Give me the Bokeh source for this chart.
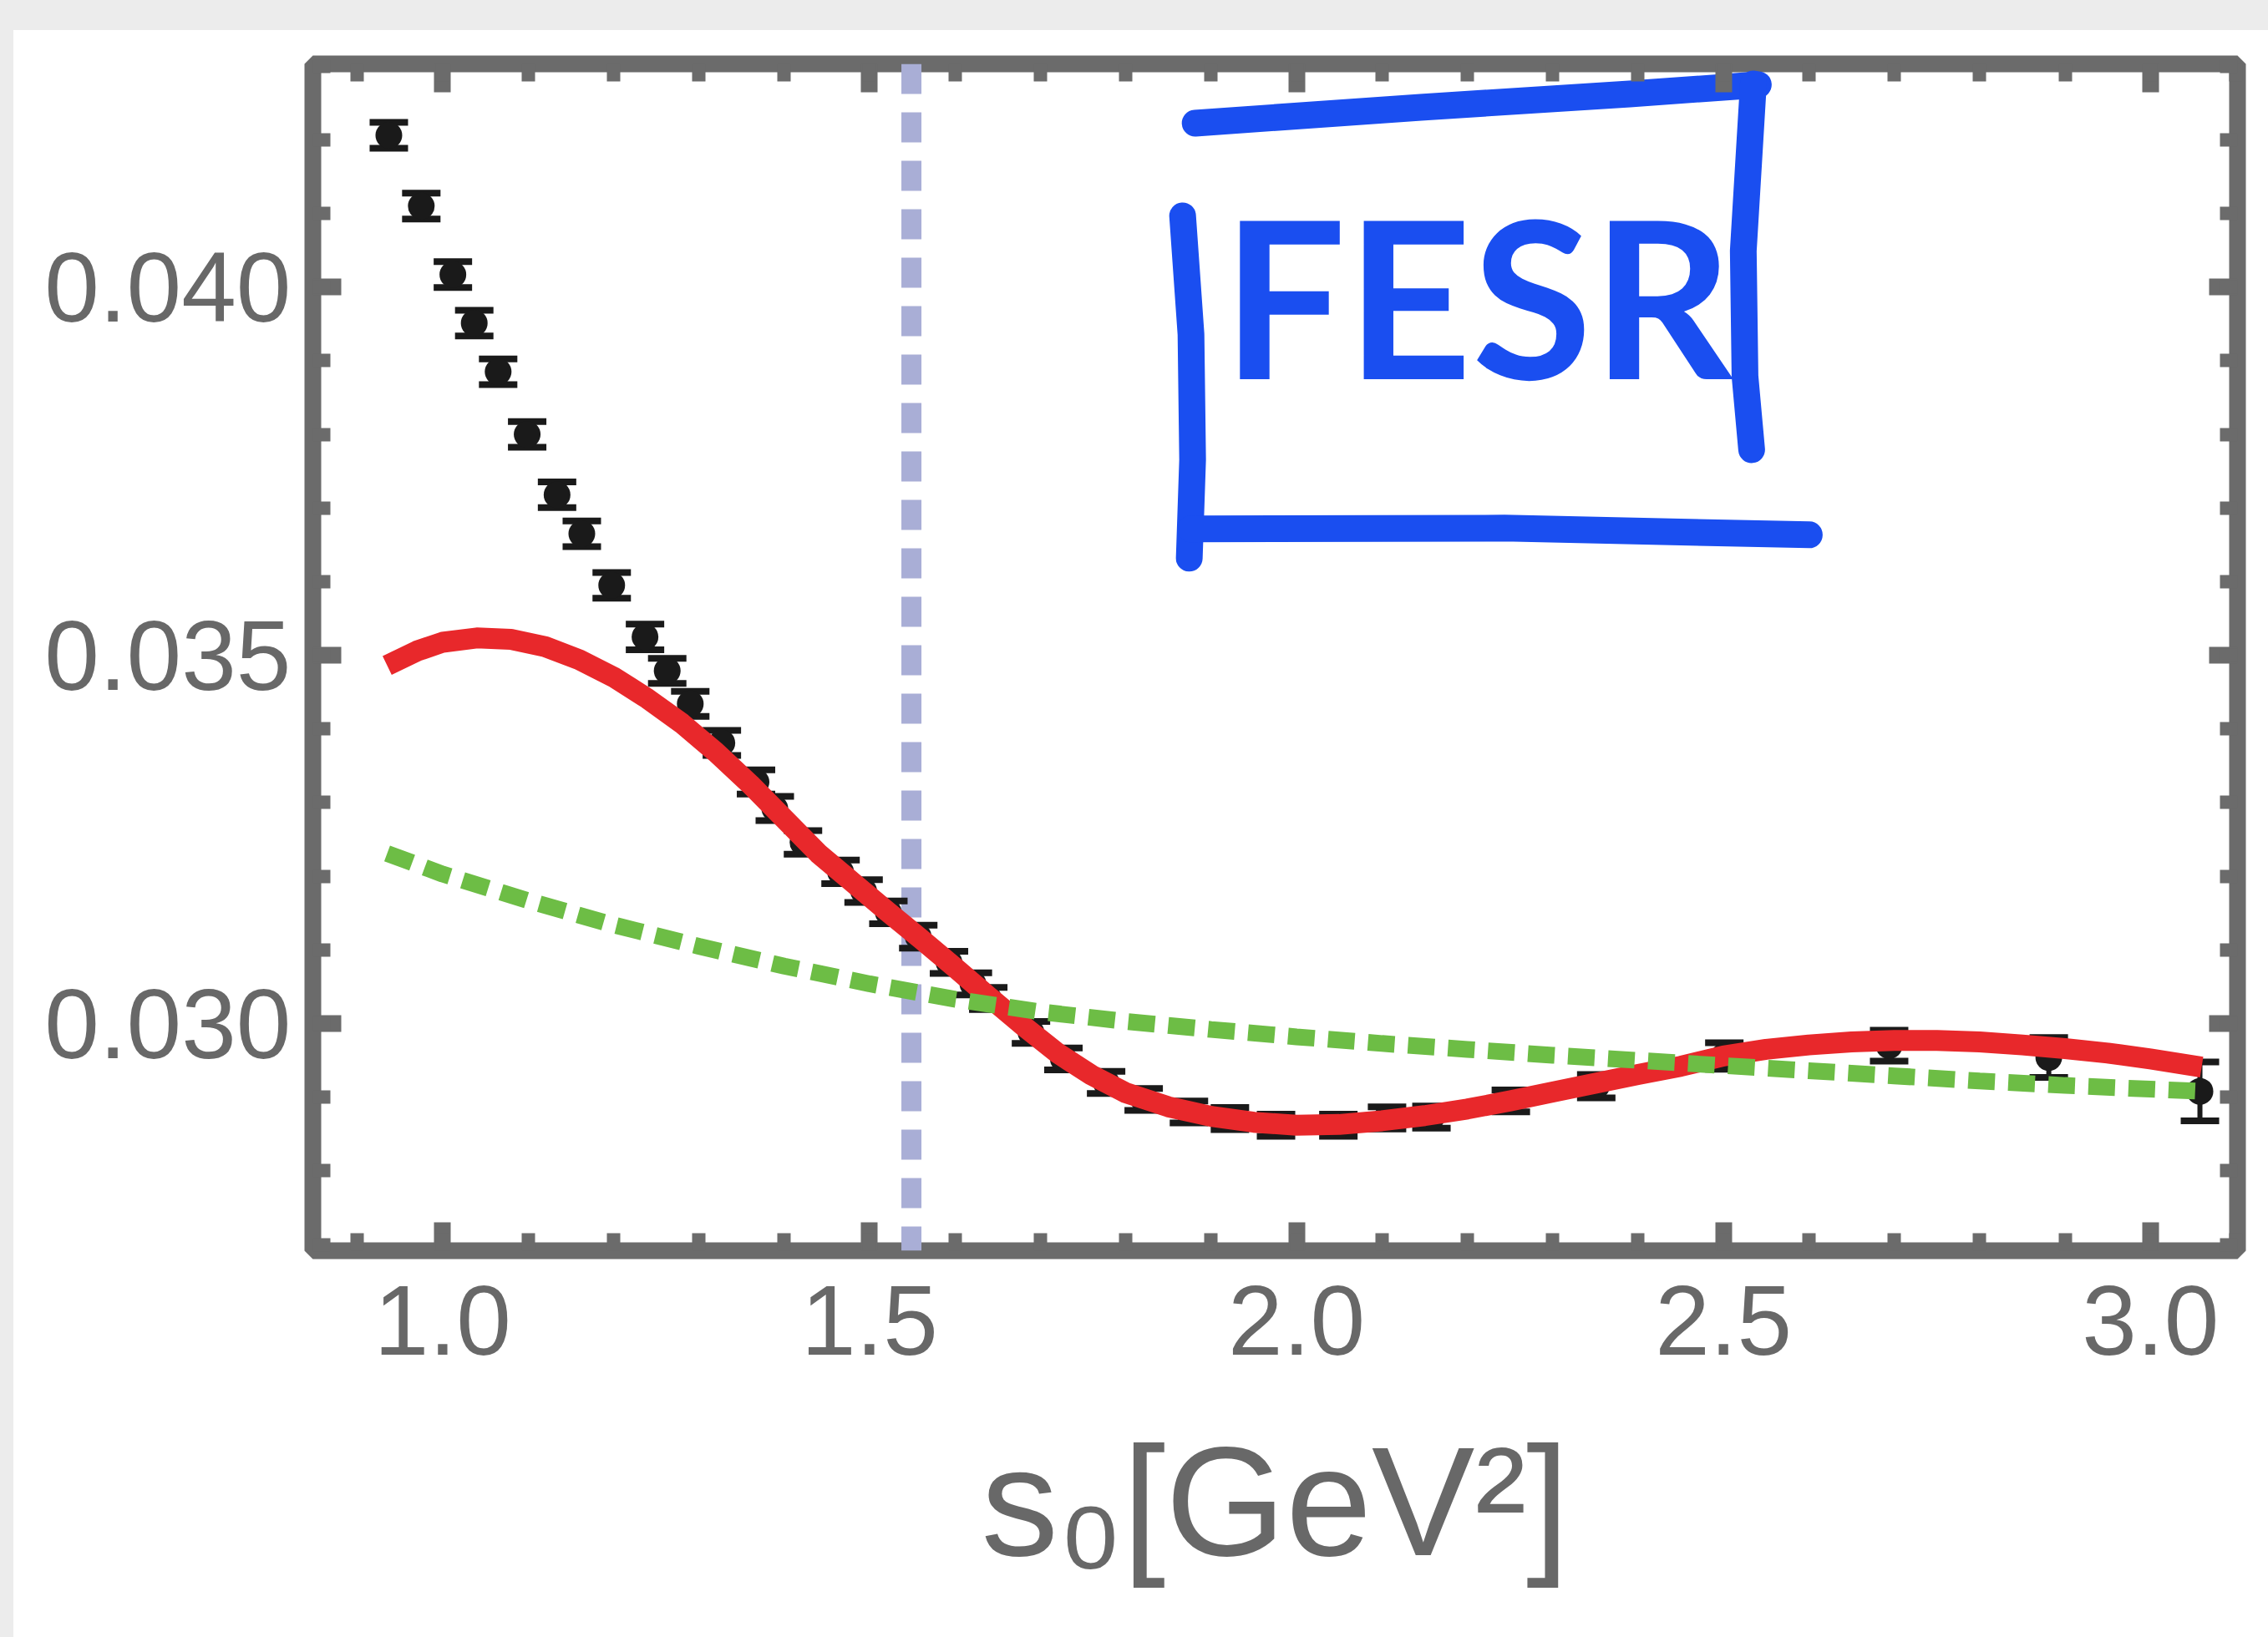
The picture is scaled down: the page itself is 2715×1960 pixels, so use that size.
from bokeh.plotting import figure
from bokeh.models import (SingleIntervalTicker, PrintfTickFormatter, LinearAxis,
                          Span, Div, Range1d)
from bokeh.layouts import column, row
from bokeh.embed import file_html
from bokeh.resources import INLINE
from bokeh.core.properties import value

# ---------------- data ----------------
s0_data = [0.937, 0.975, 1.012, 1.037, 1.065, 1.099, 1.134, 1.163, 1.198, 1.237,
           1.263, 1.290, 1.327, 1.367, 1.389, 1.422, 1.466, 1.493, 1.522, 1.557,
           1.593, 1.621, 1.639, 1.689, 1.727, 1.777, 1.821, 1.874, 1.922, 1.976,
           2.049, 2.106, 2.158, 2.251, 2.351, 2.501, 2.694, 2.881, 3.058]
val_data = [0.04206, 0.04110, 0.04017, 0.03951, 0.03885, 0.03800, 0.03718, 0.03665, 0.03595, 0.03525,
            0.03479, 0.03434, 0.03381, 0.03328, 0.03292, 0.03246, 0.03206, 0.03180, 0.03151, 0.03118,
            0.03083, 0.03054, 0.03034, 0.02988, 0.02952, 0.02920, 0.02897, 0.02880, 0.02871, 0.02862,
            0.02862, 0.02872, 0.02873, 0.02895, 0.02915, 0.02956, 0.02970, 0.02954, 0.02908]
err_data = [0.000175, 0.000175, 0.000175, 0.000175, 0.000175, 0.000175, 0.000175, 0.000175, 0.000175, 0.000175,
            0.000170, 0.000170, 0.000170, 0.000165, 0.000165, 0.000160, 0.000160, 0.000155, 0.000155, 0.000155,
            0.000150, 0.000150, 0.000150, 0.000150, 0.000150, 0.000150, 0.000150, 0.000150, 0.000150, 0.000150,
            0.000150, 0.000150, 0.000150, 0.000150, 0.000160, 0.000180, 0.000210, 0.000270, 0.000400]

s0_fesr = [0.935, 0.97, 1.00, 1.04, 1.08, 1.12, 1.16, 1.20, 1.24, 1.28, 1.32, 1.36, 1.40, 1.44,
           1.48, 1.52, 1.56, 1.60, 1.64, 1.68, 1.72, 1.76, 1.80, 1.85, 1.90, 1.95, 2.00, 2.05,
           2.10, 2.15, 2.20, 2.25, 2.30, 2.35, 2.40, 2.45, 2.50, 2.55, 2.60, 2.65, 2.70, 2.75,
           2.80, 2.85, 2.90, 2.95, 3.00, 3.06]
val_fesr = [0.034863, 0.035059, 0.035177, 0.035236, 0.035216, 0.035118, 0.034941, 0.034706,
            0.034411, 0.034077, 0.033685, 0.033252, 0.032781, 0.032310, 0.031920, 0.031530,
            0.031150, 0.030760, 0.030360, 0.029970, 0.029600, 0.029300, 0.029060, 0.028870,
            0.028740, 0.028660, 0.028620, 0.028630, 0.028680, 0.028750, 0.028840, 0.028950,
            0.029070, 0.029190, 0.029310, 0.029420, 0.029560, 0.029650, 0.029710, 0.029750,
            0.029770, 0.029770, 0.029750, 0.029710, 0.029660, 0.029600, 0.029520, 0.029410]

s0_green = [0.935, 1.00, 1.10, 1.20, 1.30, 1.40, 1.50, 1.60, 1.70, 1.80, 1.90, 2.00,
            2.10, 2.20, 2.30, 2.40, 2.50, 2.60, 2.70, 2.80, 2.90, 3.00, 3.06]
val_green = [0.03231, 0.03203, 0.03167, 0.03134, 0.03105, 0.03078, 0.03054, 0.03033,
             0.03016, 0.03003, 0.02992, 0.02982, 0.02973, 0.02965, 0.02957, 0.02950,
             0.02943, 0.02936, 0.02929, 0.02922, 0.02916, 0.02911, 0.02908]

s0_mark = 1.549

x_ticks_interval = 0.5
y_ticks_interval = 0.005

# hand-drawn "FESR" box annotation (data coordinates)
box_top_x = [1.8813, 2.1455, 2.3901, 2.5408]
box_top_y = [0.042225, 0.042441, 0.042622, 0.042747]
box_right_x = [2.5350, 2.5232, 2.5252, 2.5330]
box_right_y = [0.042758, 0.040491, 0.038790, 0.037792]
box_left_x = [1.8666, 1.8764, 1.8783, 1.8744]
box_left_y = [0.040967, 0.039357, 0.037656, 0.036319]
box_bottom_x = [1.8764, 2.2433, 2.6005]
box_bottom_y = [0.036716, 0.036727, 0.036636]
note_x = [2.212]
note_y = [0.03990]
note_text = ["FESR"]

# ---------------- figure ----------------
STRIP_TOP = 36
STRIP_LEFT = 16
W = 2715 - STRIP_LEFT
H = 1960 - STRIP_TOP
FRAME_L, FRAME_R, FRAME_T, FRAME_B = 374, 2678, 76, 1497

p = figure(width=W, height=H,
           x_range=Range1d(0.848, 3.102), y_range=Range1d(0.026916, 0.04303),
           output_backend="svg", toolbar_location=None,
           min_border_left=FRAME_L - STRIP_LEFT,
           min_border_right=2715 - FRAME_R,
           min_border_top=FRAME_T - STRIP_TOP,
           min_border_bottom=H - (FRAME_B - STRIP_TOP))
p.xgrid.visible = False
p.ygrid.visible = False
p.background_fill_color = "white"
p.border_fill_color = "white"
p.outline_line_color = "#6b6b6b"
p.outline_line_width = 20

FRAME_COL = "#6b6b6b"
LABEL_COL = "#686868"


def style_axis(ax):
    ax.axis_line_color = None
    ax.major_tick_in = 34
    ax.major_tick_out = 0
    ax.minor_tick_in = 21
    ax.minor_tick_out = 0
    ax.major_tick_line_color = FRAME_COL
    ax.minor_tick_line_color = FRAME_COL
    ax.major_tick_line_width = 20
    ax.minor_tick_line_width = 16
    ax.major_label_text_font = "Liberation Sans"
    ax.major_label_text_font_size = "118px"
    ax.major_label_text_color = LABEL_COL


xt = SingleIntervalTicker(interval=x_ticks_interval, num_minor_ticks=5)
yt = SingleIntervalTicker(interval=y_ticks_interval, num_minor_ticks=5)

xa = p.xaxis[0]
xa.ticker = xt
xa.formatter = PrintfTickFormatter(format="%.1f")
style_axis(xa)
xa.major_label_standoff = 42
xa.axis_label = "s₀[GeV²]"
xa.axis_label_text_font = "Liberation Sans"
xa.axis_label_text_font_style = "normal"
xa.axis_label_text_font_size = "185px"
xa.axis_label_text_color = LABEL_COL
xa.axis_label_standoff = 70

ya = p.yaxis[0]
ya.ticker = yt
ya.formatter = PrintfTickFormatter(format="%.3f")
style_axis(ya)
ya.major_label_standoff = 26

top_ax = LinearAxis(ticker=SingleIntervalTicker(interval=x_ticks_interval, num_minor_ticks=5))
style_axis(top_ax)
top_ax.major_label_text_font_size = "1px"
top_ax.major_label_text_color = None
p.add_layout(top_ax, "above")

right_ax = LinearAxis(ticker=SingleIntervalTicker(interval=y_ticks_interval, num_minor_ticks=5))
style_axis(right_ax)
right_ax.major_label_text_font_size = "1px"
right_ax.major_label_text_color = None
p.add_layout(right_ax, "right")

# vertical dashed marker
p.add_layout(Span(location=s0_mark, dimension="height", line_color="#a9aed6",
                  line_width=24, line_dash="36 22", level="underlay"))

# data points with error bars
lo = [v - e for v, e in zip(val_data, err_data)]
hi = [v + e for v, e in zip(val_data, err_data)]
PT = "#1a1a1a"
p.segment(x0=s0_data, y0=lo, x1=s0_data, y1=hi, line_color=PT, line_width=6)
p.scatter(s0_data, hi, marker="dash", size=46, line_width=8, line_color=PT)
p.scatter(s0_data, lo, marker="dash", size=46, line_width=8, line_color=PT)
p.scatter(s0_data, val_data, marker="circle", size=32, fill_color=PT, line_color=None)

# curves
p.line(s0_fesr, val_fesr, line_color="#e8282b", line_width=25, line_join="round")
p.line(s0_green, val_green, line_color="#6dbd45", line_width=20, line_dash="32 16")

# hand-drawn annotation
BLUE = "#1a4ef0"
for bx, by in [(box_top_x, box_top_y), (box_right_x, box_right_y),
               (box_left_x, box_left_y), (box_bottom_x, box_bottom_y)]:
    p.line(bx, by, line_color=BLUE, line_width=32, line_cap="round", line_join="round")
p.text(x=note_x, y=note_y, text=note_text, text_font=value("Lato"),
       text_font_style="bold", text_font_size="262px", text_color=BLUE,
       text_align="center", text_baseline="middle")

# screenshot-like light gray strips
top_strip = Div(width=2715, height=STRIP_TOP, margin=0,
                styles={"background-color": "#ececec"})
left_strip = Div(width=STRIP_LEFT, height=H, margin=0,
                 styles={"background-color": "#ececec"})
layout = column(top_strip, row(left_strip, p, spacing=0), spacing=0)

open("out.html", "w").write(file_html(layout, INLINE))
